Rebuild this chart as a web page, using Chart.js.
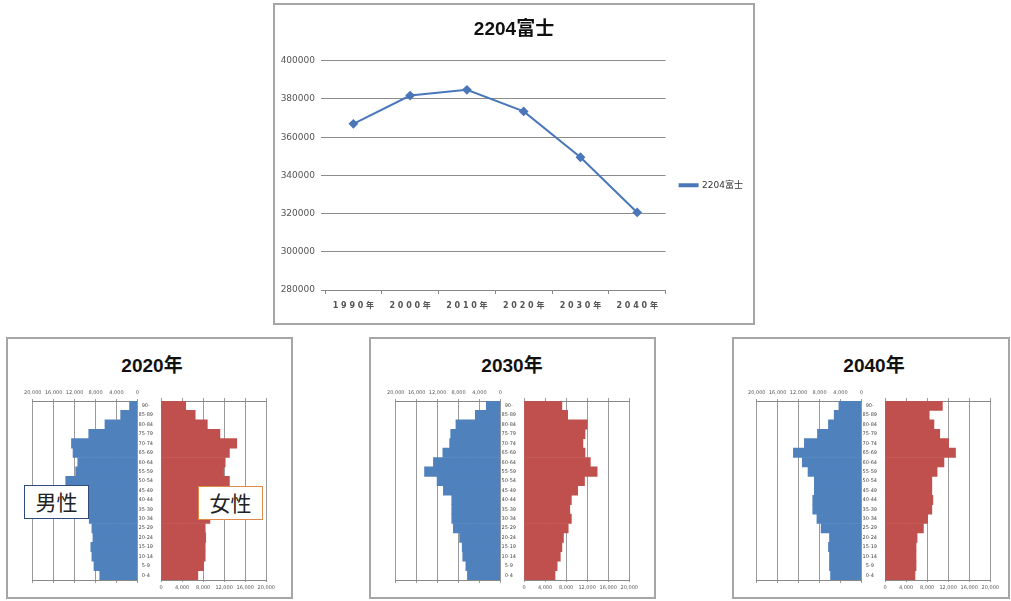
<!DOCTYPE html>
<html>
<head>
<meta charset="utf-8">
<script src="https://cdn.jsdelivr.net/npm/chart.js@4.4.1/dist/chart.umd.min.js"></script>
<style>
  body { margin: 0; background: #fff; width: 1011px; height: 601px; position: relative; overflow: hidden; }
  .frame { position: absolute; box-sizing: border-box; border: 2px solid #a6a6a6; background: #fff; }
  .cv { position: absolute; }
  .ptitle { position: absolute; width: 120px; text-align: center; font: bold 19px 'Liberation Sans', 'Noto Sans CJK JP', sans-serif; color: #111; }
  .sexbox { position: absolute; box-sizing: border-box; background: #fff; font: 21px 'Noto Sans CJK JP', sans-serif; color: #222; text-align: center; line-height: 31px; }
</style>
</head>
<body>
<div class="frame" style="left:273px;top:3px;width:482px;height:322px"></div>
<div class="frame" style="left:6px;top:337px;width:287px;height:262px"></div>
<div class="frame" style="left:369px;top:337px;width:287px;height:262px"></div>
<div class="frame" style="left:732px;top:337px;width:278px;height:262px"></div>
<canvas id="lineChart" class="cv" width="478" height="318" style="left:275px;top:5px"></canvas>

<script>
// top chart: 2204富士 population
const years = ['1990年', '2000年', '2010年', '2020年', '2030年', '2040年'];
const population = [367000, 381800, 384800, 373500, 349500, 320600];
const seriesName = '2204富士';

// pyramids
const ageGroups = ['90-', '85-89', '80-84', '75-79', '70-74', '65-69', '60-64', '55-59', '50-54', '45-49',
    '40-44', '35-39', '30-34', '25-29', '20-24', '15-19', '10-14', '5-9', '0-4'];
const male2020 = [1500, 3200, 6200, 9300, 12600, 12300, 11400, 11800, 13700, 9800, 9600, 9500, 9200, 8700, 8500, 8900, 8700, 8300, 7200];
const female2020 = [4700, 6500, 8800, 11200, 14400, 13000, 12200, 11900, 13000, 10200, 9800, 9600, 9300, 8400, 8500, 8400, 8400, 8100, 7000];
const male2030 = [2700, 4800, 8500, 9500, 9700, 11000, 12800, 14500, 12100, 10900, 9300, 9300, 9300, 9000, 7800, 7300, 7200, 6600, 6300];
const female2030 = [7200, 8300, 12000, 11600, 11200, 11600, 12600, 13900, 11500, 10200, 9000, 8700, 9000, 8400, 7500, 7200, 6900, 6300, 5900];
const male2040 = [4300, 5200, 6300, 8400, 10900, 13000, 11300, 10200, 9000, 9000, 9300, 9300, 8500, 7700, 6100, 6300, 6100, 6100, 5900];
const female2040 = [10900, 8400, 9300, 10400, 12100, 13400, 11200, 9900, 8900, 8900, 9100, 8900, 8100, 7300, 6100, 5900, 5900, 5900, 5700];
const pyramidMax = 20000;
const pyramidStep = 4000;

Chart.defaults.font.family = "'DejaVu Sans', 'Noto Sans CJK JP', sans-serif";
Chart.defaults.animation = false;

const lineBlue = '#4a77b9';
const maleBlue = '#4f81bd';
const femaleRed = '#c0504d';

new Chart(document.getElementById('lineChart').getContext('2d'), {
    type: 'line',
    data: {
        labels: years,
        datasets: [{
            label: seriesName,
            data: population,
            borderColor: lineBlue,
            backgroundColor: lineBlue,
            borderWidth: 2,
            pointStyle: 'rectRot',
            pointRadius: 3.5,
            tension: 0,
        }]
    },
    options: {
        responsive: false,
        layout: { padding: { left: 0, right: 0, top: 0, bottom: 0 } },
        plugins: {
            title: { display: true, text: seriesName, color: '#111', font: { size: 19, weight: 'bold', family: "'Liberation Sans', 'Noto Sans CJK JP'" }, padding: { top: 13, bottom: 20 } },
            legend: {
                position: 'right',
                title: { display: true, text: ' ', padding: { top: 14, bottom: 14 } },
                labels: { boxWidth: 18, boxHeight: 2, padding: 14, color: '#333', font: { size: 9 } }
            },
            tooltip: { enabled: false },
        },
        scales: {
            x: {
                offset: true,
                grid: { offset: true, drawOnChartArea: false, tickLength: 4, color: '#888' },
                border: { color: '#888' },
                ticks: { color: '#555', padding: 7, font: { size: 8, weight: 'bold' }, maxRotation: 0,
                    callback: function (v) { return this.getLabelForValue(v).split('').join(' '); } },
                afterFit: s => { s.height = 33; },
            },
            y: {
                min: 280000, max: 400000,
                grid: { color: '#8c8c8c', tickLength: 4 },
                border: { display: false },
                ticks: { stepSize: 20000, color: '#555', padding: 6, font: { size: 9 }, callback: v => String(v) },
                afterFit: s => { s.width = 50; },
            }
        }
    }
});

function addCanvas(left, top, w, h) {
    const c = document.createElement('canvas');
    c.className = 'cv';
    c.width = w;
    c.height = h;
    c.style.left = left + 'px';
    c.style.top = top + 'px';
    document.body.appendChild(c);
    return c.getContext('2d');
}

function valueAxis(position, extra) {
    return Object.assign({
        type: 'linear', position, min: 0, max: pyramidMax,
        grid: { color: '#9a9a9a', tickLength: 2 },
        border: { color: '#888' },
        ticks: { stepSize: pyramidStep, autoSkip: false, color: '#555', padding: 3, maxRotation: 0, font: { size: 5 },
            callback: v => v.toLocaleString('en-US') },
    }, extra);
}

function edgeAxis(position, reverse) {
    return {
        type: 'linear', position, min: 0, max: pyramidMax, reverse,
        grid: { drawOnChartArea: false, tickLength: 3, color: '#9a9a9a' },
        border: { color: '#888' },
        ticks: { display: false, stepSize: pyramidStep },
        afterFit: s => { s.height = 4; },
    };
}

function makePyramid(bx, title, titleX, males, females) {
    const t = document.createElement('div');
    t.className = 'ptitle';
    t.textContent = title;
    t.style.left = (titleX - 60) + 'px';
    t.style.top = '350px';
    document.body.appendChild(t);

    new Chart(addCanvas(bx + 14, 385, 121, 199), {
        type: 'bar',
        data: { labels: ageGroups, datasets: [{ label: '男性', data: males, backgroundColor: maleBlue, barPercentage: 1, categoryPercentage: 1, xAxisID: 'x' }] },
        options: {
            indexAxis: 'y', responsive: false,
            layout: { padding: { left: 9, right: 3 } },
            plugins: { legend: { display: false }, tooltip: { enabled: false } },
            scales: {
                x: valueAxis('top', { reverse: true, afterFit: s => { s.height = 16; } }),
                x2: edgeAxis('bottom', true),
                y: { display: false },
            }
        }
    });

    new Chart(addCanvas(bx + 132, 397, 139, 195), {
        type: 'bar',
        data: { labels: ageGroups, datasets: [{ label: '女性', data: females, backgroundColor: femaleRed, barPercentage: 1, categoryPercentage: 1, xAxisID: 'x' }] },
        options: {
            indexAxis: 'y', responsive: false,
            layout: { padding: { left: 0, right: 8 } },
            plugins: { legend: { display: false }, tooltip: { enabled: false } },
            scales: {
                x: valueAxis('bottom', { afterFit: s => { s.height = 12; } }),
                x2: edgeAxis('top', false),
                y: {
                    position: 'left',
                    grid: { display: false },
                    border: { display: false },
                    ticks: { autoSkip: false, crossAlign: 'center', padding: 0, color: '#444', font: { size: 5 } },
                    afterFit: s => { s.width = 22; },
                }
            }
        }
    });
}

makePyramid(7, '2020年', 152, male2020, female2020);
makePyramid(370, '2030年', 512, male2030, female2030);
makePyramid(731, '2040年', 874, male2040, female2040);

function sexLabel(text, left, top, border) {
    const d = document.createElement('div');
    d.className = 'sexbox';
    d.textContent = text;
    d.style.cssText += `left:${left}px;top:${top}px;width:65px;height:34px;border:1px solid ${border};`;
    document.body.appendChild(d);
}
sexLabel('男性', 24, 485, '#2f4b7c');
sexLabel('女性', 198, 486, '#e08a4a');
</script>
</body>
</html>
